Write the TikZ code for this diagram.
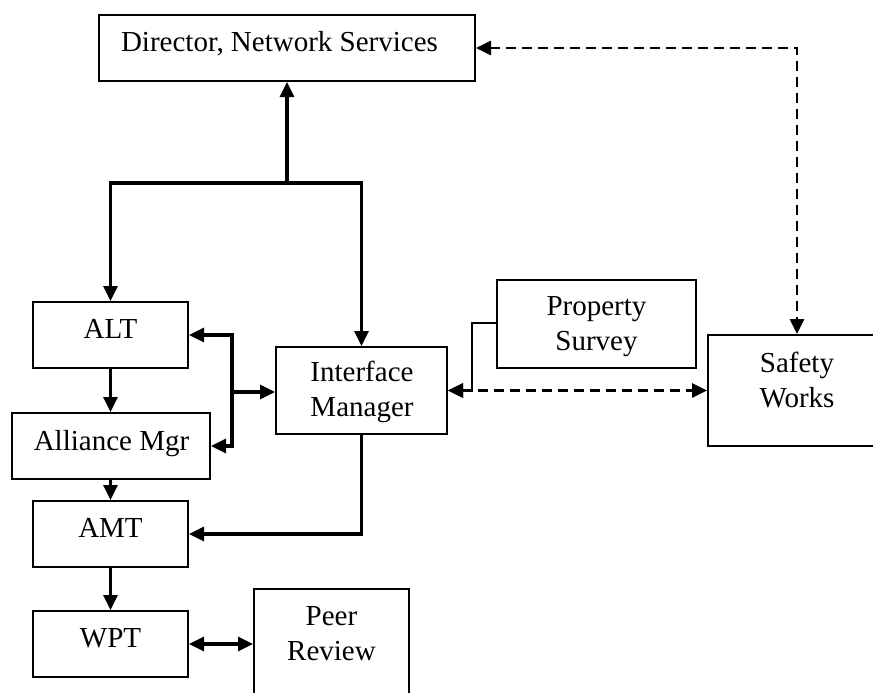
\documentclass[tikz,border=0pt]{standalone}
\usepackage{fontspec}
\setmainfont{Liberation Serif}
\usetikzlibrary{arrows.meta,calc}
\begin{document}
\begin{tikzpicture}[x=1pt,y=-1pt,
  box/.style={draw,line width=2pt,rectangle,inner sep=0pt},
  txt/.style={anchor=base,inner sep=0pt,font=\fontsize{29}{35}\selectfont},
  conn/.style={line width=3.2pt},
  thin conn/.style={line width=2.4pt},
  dconn/.style={line width=2.6pt,dash pattern=on 10pt off 6pt},
  tip/.style={-{Triangle[length=15pt,width=14pt]}},
  tips/.style={{Triangle[length=15pt,width=14pt]}-{Triangle[length=15pt,width=14pt]}}
]
\clip (0,0) rectangle (873,693);
\fill[white] (0,0) rectangle (873,693);
% boxes
\node[box,minimum width=376pt,minimum height=66pt] (dir) at (287,48) {};
\node[txt] (dirt) at (279.5,52) {Director, Network Services};
\node[box,minimum width=155pt,minimum height=66pt] (alt) at (110.5,335) {};
\node[txt] (altt) at (110.5,338) {ALT};
\node[box,minimum width=198pt,minimum height=66pt] (am) at (111,446) {};
\node[txt] (amt1) at (111.5,450) {Alliance Mgr};
\node[box,minimum width=171pt,minimum height=87pt] (im) at (361.5,390.5) {};
\node[txt] (imt1) at (362,381) {Interface};
\node[txt] (imt2) at (362,416) {Manager};
\node[box,minimum width=155pt,minimum height=66pt] (amt) at (110.5,534) {};
\node[txt] (amtt) at (110.5,537) {AMT};
\node[box,minimum width=155pt,minimum height=66pt] (wpt) at (110.5,644) {};
\node[txt] (wptt) at (110.5,647) {WPT};
\node[box,minimum width=155pt,minimum height=131pt] (pr) at (331.5,654.5) {};
\node[txt] (prt1) at (331.5,625) {Peer};
\node[txt] (prt2) at (331.5,660) {Review};
\node[box,minimum width=199pt,minimum height=88pt] (ps) at (596.5,324) {};
\node[txt] (pst1) at (596.5,315) {Property};
\node[txt] (pst2) at (596.5,350) {Survey};
\node[box,minimum width=178pt,minimum height=111pt] (sw) at (797,390.5) {};
\node[txt] (swt1) at (797,372) {Safety};
\node[txt] (swt2) at (797,407) {Works};
% coordinates
\coordinate (j) at (287,183);
\coordinate (b) at (232,392);
\coordinate (k) at (472,323);
\coordinate (d) at (797,48);
% connectors
\draw[conn,tip] (j) -- (dir.south);
\draw[conn,tip] (j) -| (alt.north);
\draw[conn,tip] (j) -| (im.north);
\draw[conn,tip] (alt.south) -- (alt.south |- am.north);
\draw[conn,tip] (am.south -| alt.south) -- (amt.north);
\draw[conn,tip] (amt.south) -- (wpt.north);
\draw[conn,tip] (b) |- (alt.east);
\draw[conn,tip] (b) |- (am.east);
\draw[conn,tip] (b) -- (b -| im.west);
\draw[conn,tip] (im.south) |- (amt.east);
\draw[conn,tips] (wpt.east) -- (wpt.east -| pr.west);
\draw[thin conn,tip] (ps.west |- k) -- (k) |- (im.east);
\draw[dconn,tips] (im.east) -- (sw.west);
\draw[dconn,tips] (dir.east |- d) -- (d) -- (sw.north);
\end{tikzpicture}
\end{document}
